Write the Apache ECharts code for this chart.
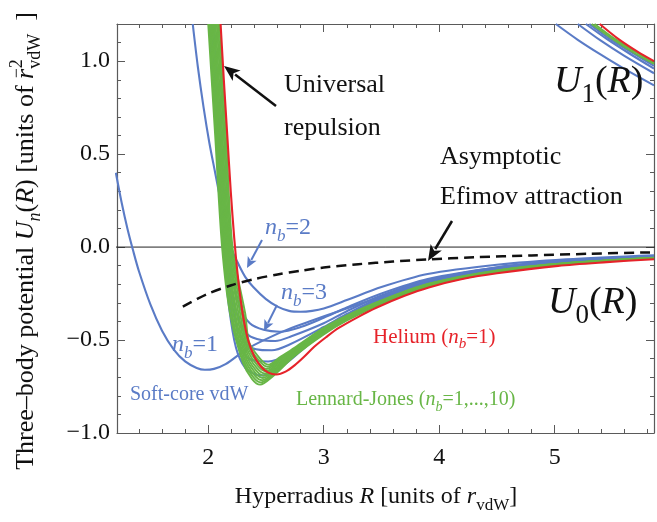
<!DOCTYPE html>
<html><head><meta charset="utf-8">
<script src="https://cdn.jsdelivr.net/npm/echarts@6/dist/echarts.min.js"></script>
<style>html,body{margin:0;padding:0;background:#fff}#c{width:657px;height:522px}</style>
</head><body><div id="c"></div>
<script>
// ---------- data ----------
const xTickLabels = [2, 3, 4, 5];
const yTickLabels = [-1.0, -0.5, 0.0, 0.5, 1.0];

const zeroLine = [[1.2, 0], [5.9, 0]];
const efimovAsymptote = [[1.78,-0.32],[1.9,-0.28],[2.0,-0.25],[2.2,-0.205],[2.4,-0.172],[2.6,-0.147],[2.8,-0.127],[3.0,-0.11],[3.3,-0.092],[3.6,-0.078],[3.9,-0.066],[4.3,-0.055],[4.8,-0.045],[5.3,-0.036],[5.86,-0.028]];

// Soft-core vdW (blue), U0
const softCore1 = [[1.2,0.40],[1.25,0.24],[1.3,0.10],[1.35,-0.02],[1.4,-0.13],[1.5,-0.31],[1.6,-0.45],[1.7,-0.55],[1.8,-0.615],[1.9,-0.65],[1.97,-0.66],[2.05,-0.655],[2.15,-0.63],[2.33,-0.55],[2.5,-0.495],[2.7,-0.44],[2.9,-0.395],[3.13,-0.345],[3.5,-0.265],[3.9,-0.18],[4.5,-0.108],[5.1,-0.073],[5.86,-0.048]];
const softCore2 = [[1.866,1.2],[1.91,0.97],[1.96,0.75],[2.01,0.56],[2.06,0.40],[2.11,0.24],[2.16,0.09],[2.20,-0.01],[2.26,-0.09],[2.32,-0.16],[2.39,-0.215],[2.5,-0.28],[2.6,-0.32],[2.7,-0.343],[2.8,-0.348],[2.9,-0.343],[3.0,-0.33],[3.2,-0.285],[3.5,-0.215],[3.9,-0.145],[4.5,-0.095],[5.1,-0.066],[5.86,-0.044]];
const softCore3 = [[2.045,1.2],[2.10,0.6],[2.17,0],[2.22,-0.2],[2.28,-0.33],[2.36,-0.41],[2.48,-0.445],[2.62,-0.455],[2.8,-0.43],[3.0,-0.38],[3.2,-0.325],[3.5,-0.25],[3.9,-0.172],[4.5,-0.11],[5.1,-0.075],[5.86,-0.049]];
const softCore4 = [[2.035,1.2],[2.095,0.6],[2.16,0],[2.21,-0.25],[2.27,-0.40],[2.35,-0.475],[2.46,-0.50],[2.58,-0.505],[2.72,-0.48],[3.0,-0.41],[3.2,-0.345],[3.5,-0.26],[3.9,-0.178],[4.5,-0.114],[5.1,-0.077],[5.86,-0.05]];
const softCore5 = [[2.025,1.2],[2.085,0.6],[2.15,0],[2.20,-0.28],[2.26,-0.45],[2.34,-0.53],[2.45,-0.553],[2.55,-0.555],[2.7,-0.525],[3.0,-0.43],[3.2,-0.36],[3.5,-0.268],[3.9,-0.183],[4.5,-0.117],[5.1,-0.079],[5.86,-0.051]];
const softCore6 = [[2.015,1.2],[2.075,0.6],[2.14,0],[2.19,-0.3],[2.25,-0.50],[2.33,-0.59],[2.43,-0.613],[2.52,-0.615],[2.68,-0.58],[3.0,-0.445],[3.2,-0.37],[3.5,-0.275],[3.9,-0.188],[4.5,-0.12],[5.1,-0.081],[5.86,-0.052]];
const softCore7 = [[2.008,1.2],[2.068,0.6],[2.13,0],[2.18,-0.32],[2.24,-0.54],[2.32,-0.65],[2.41,-0.685],[2.48,-0.69],[2.62,-0.65],[2.8,-0.56],[3.0,-0.455],[3.2,-0.378],[3.5,-0.28],[3.9,-0.193],[4.5,-0.123],[5.1,-0.083],[5.86,-0.053]];

// Lennard-Jones (green), U0, n_b = 1..10
const lj1  = [[2.000,1.2],[2.060,0.6],[2.120,0],[2.190,-0.36],[2.300,-0.620],[2.380,-0.710],[2.450,-0.740],[2.550,-0.700],[2.75,-0.585],[3.0,-0.470],[3.2,-0.395],[3.5,-0.305],[3.9,-0.212],[4.5,-0.135],[5.1,-0.092],[5.86,-0.061]];
const lj2  = [[2.011,1.2],[2.071,0.6],[2.130,0],[2.205,-0.36],[2.306,-0.608],[2.388,-0.698],[2.458,-0.728],[2.558,-0.688],[2.75,-0.580],[3.0,-0.466],[3.2,-0.392],[3.5,-0.303],[3.9,-0.2105],[4.5,-0.134],[5.1,-0.0913],[5.86,-0.0606]];
const lj3  = [[2.021,1.2],[2.081,0.6],[2.140,0],[2.219,-0.36],[2.312,-0.596],[2.396,-0.686],[2.466,-0.716],[2.566,-0.676],[2.75,-0.575],[3.0,-0.462],[3.2,-0.389],[3.5,-0.301],[3.9,-0.209],[4.5,-0.133],[5.1,-0.0906],[5.86,-0.0602]];
const lj4  = [[2.032,1.2],[2.092,0.6],[2.150,0],[2.234,-0.36],[2.318,-0.584],[2.404,-0.674],[2.474,-0.704],[2.574,-0.664],[2.75,-0.570],[3.0,-0.458],[3.2,-0.386],[3.5,-0.299],[3.9,-0.2075],[4.5,-0.132],[5.1,-0.0899],[5.86,-0.0598]];
const lj5  = [[2.042,1.2],[2.102,0.6],[2.160,0],[2.248,-0.36],[2.324,-0.572],[2.412,-0.662],[2.482,-0.692],[2.582,-0.652],[2.75,-0.565],[3.0,-0.454],[3.2,-0.383],[3.5,-0.297],[3.9,-0.206],[4.5,-0.131],[5.1,-0.0892],[5.86,-0.0594]];
const lj6  = [[2.053,1.2],[2.113,0.6],[2.170,0],[2.263,-0.36],[2.330,-0.560],[2.420,-0.650],[2.490,-0.680],[2.590,-0.640],[2.75,-0.560],[3.0,-0.450],[3.2,-0.380],[3.5,-0.295],[3.9,-0.2045],[4.5,-0.130],[5.1,-0.0885],[5.86,-0.059]];
const lj7  = [[2.063,1.2],[2.123,0.6],[2.180,0],[2.277,-0.36],[2.336,-0.548],[2.428,-0.638],[2.498,-0.668],[2.598,-0.628],[2.75,-0.555],[3.0,-0.446],[3.2,-0.377],[3.5,-0.293],[3.9,-0.203],[4.5,-0.129],[5.1,-0.0878],[5.86,-0.0586]];
const lj8  = [[2.074,1.2],[2.134,0.6],[2.190,0],[2.292,-0.36],[2.342,-0.536],[2.436,-0.626],[2.506,-0.656],[2.606,-0.616],[2.75,-0.550],[3.0,-0.442],[3.2,-0.374],[3.5,-0.291],[3.9,-0.2015],[4.5,-0.128],[5.1,-0.0871],[5.86,-0.0582]];
const lj9  = [[2.084,1.2],[2.144,0.6],[2.200,0],[2.306,-0.36],[2.348,-0.524],[2.444,-0.614],[2.514,-0.644],[2.614,-0.604],[2.75,-0.545],[3.0,-0.438],[3.2,-0.371],[3.5,-0.289],[3.9,-0.200],[4.5,-0.127],[5.1,-0.0864],[5.86,-0.0578]];
const lj10 = [[2.095,1.2],[2.155,0.6],[2.210,0],[2.321,-0.36],[2.354,-0.512],[2.452,-0.602],[2.522,-0.632],[2.622,-0.592],[2.75,-0.540],[3.0,-0.434],[3.2,-0.368],[3.5,-0.287],[3.9,-0.1985],[4.5,-0.126],[5.1,-0.0857],[5.86,-0.0574]];

// Helium (red), U0
const helium = [[2.107,1.2],[2.135,0.9],[2.165,0.6],[2.195,0.3],[2.225,0.05],[2.25,-0.12],[2.28,-0.28],[2.31,-0.40],[2.35,-0.51],[2.40,-0.59],[2.46,-0.645],[2.52,-0.675],[2.59,-0.685],[2.67,-0.67],[2.75,-0.635],[2.83,-0.59],[2.92,-0.535],[3.02,-0.485],[3.13,-0.435],[3.3,-0.375],[3.46,-0.325],[3.7,-0.262],[3.91,-0.217],[4.2,-0.172],[4.5,-0.141],[5.03,-0.101],[5.45,-0.081],[5.86,-0.065]];

// U1 branch (top right)
const u1Blue1 = [[5.01,1.2],[5.2,1.115],[5.4,1.035],[5.6,0.96],[5.86,0.87]];
const u1Blue2 = [[5.2,1.2],[5.4,1.11],[5.6,1.03],[5.86,0.935]];
const u1Blue3 = [[5.27,1.2],[5.45,1.12],[5.65,1.04],[5.86,0.96]];
const u1Blue4 = [[5.30,1.2],[5.5,1.11],[5.7,1.035],[5.86,0.975]];
const u1Green1 = [[5.32,1.2],[5.5,1.12],[5.7,1.04],[5.86,0.985]];
const u1Green2 = [[5.345,1.2],[5.52,1.12],[5.7,1.05],[5.86,0.99]];
const u1Red = [[5.39,1.2],[5.55,1.12],[5.72,1.05],[5.86,1.0]];

// ---------- styling / construction ----------
const F = "'Liberation Serif','Times New Roman',Times,serif";
const BLUE = '#5a7bc6', GREEN = '#68b646', RED = '#e6232a', FRAME = '#5a5a5a';

function curve(data, color, width, extra) {
  return Object.assign({
    type: 'line', data: data, showSymbol: false, symbol: 'none', smooth: 0.3,
    lineStyle: { color: color, width: width }, silent: true, z: 2, clip: true
  }, extra || {});
}
const blues = [softCore7, softCore6, softCore5, softCore4, softCore3, softCore2, softCore1, u1Blue1, u1Blue2, u1Blue3, u1Blue4];
const greens = [lj1, lj2, lj3, lj4, lj5, lj6, lj7, lj8, lj9, lj10, u1Green1, u1Green2];
const reds = [helium, u1Red];

const series = [curve(zeroLine, '#222', 1, { smooth: false })];
blues.forEach(d => series.push(curve(d, BLUE, 2.1)));
greens.forEach(d => series.push(curve(d, GREEN, 1.9)));
reds.forEach(d => series.push(curve(d, RED, 2.1)));
series.push(curve(efimovAsymptote, '#111', 2.5, { lineStyle: { color: '#111', width: 2.5, type: [10, 6] } }));

function fmtY(v) {
  if (!yTickLabels.some(t => Math.abs(t - v) < 1e-9)) return '';
  return (v < -1e-9 ? '\u2212' : '') + Math.abs(v).toFixed(1);
}
function fmtX(v) {
  return xTickLabels.some(t => Math.abs(t - v) < 1e-9) ? String(v) : '';
}
const tickCommon = { show: true, inside: true, length: 8, lineStyle: { color: FRAME, width: 1 } };
const minorCommon = { show: true, splitNumber: 5, length: 4, lineStyle: { color: FRAME, width: 1 } };
const lineCommon = { show: true, onZero: false, lineStyle: { color: FRAME, width: 1.2 } };
const XMIN = 1.21, XMAX = 5.86, YMIN = -1.0, YMAX = 1.2;

function richSet(s, c) {
  const L = Math.round(s * 1.3);
  return {
    r: { fontFamily: F, fontSize: s, fill: c, lineHeight: L },
    i: { fontFamily: F, fontSize: s, fontStyle: 'italic', fill: c, lineHeight: L },
    sb: { fontFamily: F, fontSize: Math.round(s * 0.7), fontStyle: 'italic', fill: c, lineHeight: L, verticalAlign: 'bottom', height: s * 0.6 },
    sbr: { fontFamily: F, fontSize: Math.round(s * 0.7), fill: c, lineHeight: L, verticalAlign: 'bottom', height: s * 0.6 },
    sp: { fontFamily: F, fontSize: Math.round(s * 0.7), fill: c, lineHeight: L, verticalAlign: 'top', height: s * 0.6, width: 0, align: 'left' }
  };
}
function txt(x, y, text, size, color, align, rot) {
  return {
    type: 'text', x: x, y: y, rotation: rot || 0, z: 100, silent: true,
    style: { text: text, rich: richSet(size, color), fill: color, font: size + 'px ' + F,
      align: align || 'left', textAlign: align || 'left', verticalAlign: 'middle', textVerticalAlign: 'middle' }
  };
}
function arrow(x1, y1, x2, y2, color, w, hl, hw) {
  const dx = x2 - x1, dy = y2 - y1, len = Math.sqrt(dx * dx + dy * dy);
  const ux = dx / len, uy = dy / len, px = -uy, py = ux;
  const bx = x2 - ux * hl, by = y2 - uy * hl;
  return [
    { type: 'line', z: 100, silent: true, shape: { x1: x1, y1: y1, x2: bx + ux * 2, y2: by + uy * 2 }, style: { stroke: color, lineWidth: w } },
    { type: 'polygon', z: 100, silent: true, shape: { points: [[x2, y2], [bx + px * hw / 2, by + py * hw / 2], [bx + ux * hl * 0.25, by + uy * hl * 0.25], [bx - px * hw / 2, by - py * hw / 2]] }, style: { fill: color } }
  ];
}

const graphics = [
  txt(284, 85, '{r|Universal}', 26, '#111'),
  txt(284, 128, '{r|repulsion}', 26, '#111'),
  txt(440, 157, '{r|Asymptotic}', 26, '#111'),
  txt(440, 197, '{r|Efimov attraction}', 26, '#111'),
  txt(554, 82, '{i|U}{sbr|1}{r|(}{i|R}{r|)}', 38, '#111'),
  txt(548, 303, '{i|U}{sbr|0}{r|(}{i|R}{r|)}', 38, '#111'),
  txt(265, 228, '{i|n}{sb|b}{r|=2}', 24, BLUE),
  txt(281, 293, '{i|n}{sb|b}{r|=3}', 24, BLUE),
  txt(172, 345, '{i|n}{sb|b}{r|=1}', 24, BLUE),
  txt(130, 395, '{r|Soft-core vdW}', 20, BLUE),
  txt(373, 337, '{r|Helium (}{i|n}{sb|b}{r|=1)}', 21, RED),
  txt(296, 400, '{r|Lennard-Jones (}{i|n}{sb|b}{r|=1,...,10)}', 20, GREEN),
  txt(376, 497, '{r|Hyperradius }{i|R}{r| [units of }{i|r}{sbr|vdW}{r|]}', 24, '#111', 'center'),
  txt(26, 241, '{r|Three\u2013body potential }{i|U}{sb|n}{r|(}{i|R}{r|) [units of }{i|r}{sp|\u22122}{sbr|vdW}{r|  ]}', 26, '#111', 'center', Math.PI / 2)
].concat(
  arrow(276, 106, 224, 66, '#111', 2.5, 16, 13),
  arrow(452, 221, 428, 261, '#111', 2.5, 16, 13),
  arrow(262, 240, 247, 268, BLUE, 2, 11, 10),
  arrow(277, 305, 264, 331, BLUE, 2, 11, 10)
);

const chart = echarts.init(document.getElementById('c'), null, { renderer: 'canvas' });
chart.setOption({
  animation: false,
  backgroundColor: '#fff',
  grid: { left: 117, right: 1, top: 24, bottom: 89, containLabel: false },
  xAxis: [
    { type: 'value', min: XMIN, max: XMAX, position: 'bottom', splitLine: { show: false },
      axisLine: lineCommon, axisTick: tickCommon, minorTick: minorCommon,
      axisLabel: { show: true, margin: 13, formatter: fmtX, fontFamily: F, fontSize: 24, color: '#111', showMinLabel: true, showMaxLabel: true } },
    { type: 'value', min: XMIN, max: XMAX, position: 'top', splitLine: { show: false },
      axisLine: lineCommon, axisTick: tickCommon, minorTick: minorCommon, axisLabel: { show: false } }
  ],
  yAxis: [
    { type: 'value', min: YMIN, max: YMAX, position: 'left', splitLine: { show: false },
      axisLine: lineCommon, axisTick: tickCommon, minorTick: minorCommon,
      axisLabel: { show: true, margin: 7, formatter: fmtY, fontFamily: F, fontSize: 24, color: '#111' } },
    { type: 'value', min: YMIN, max: YMAX, position: 'right', splitLine: { show: false },
      axisLine: lineCommon, axisTick: tickCommon, minorTick: minorCommon, axisLabel: { show: false } }
  ],
  series: series,
  graphic: { elements: graphics }
});
</script></body></html>
